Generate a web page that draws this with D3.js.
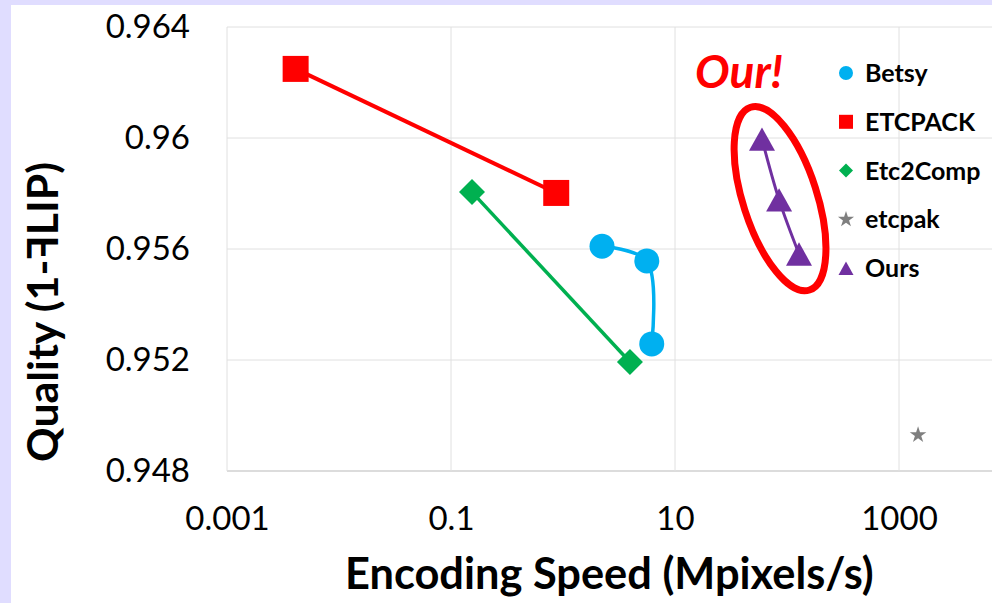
<!DOCTYPE html>
<html>
<head>
<meta charset="utf-8">
<script src="https://cdn.jsdelivr.net/npm/d3@7"></script>
<style>
  body { margin: 0; background: #e0ddff; }
  svg { display: block; font-family: Lato, "Open Sans", sans-serif; }
</style>
</head>
<body>
<svg id="chart" width="992" height="603"></svg>
<script>
// values
const seriesNames = ["Betsy", "ETCPACK", "Etc2Comp", "etcpak", "Ours"];
const seriesColors = ["#00b0f0", "#ff0000", "#00b050", "#7f7f7f", "#7030a0"];

const betsySpeed = [2.23, 5.6, 6.2];
const betsyQuality = [0.9561, 0.95557, 0.95258];
const etcpackSpeed = [0.0041, 0.87];
const etcpackQuality = [0.96249, 0.95802];
const etc2compSpeed = [0.154, 3.96];
const etc2compQuality = [0.95805, 0.95193];
const etcpakSpeed = [1480];
const etcpakQuality = [0.9493];
const oursSpeed = [59.8, 85, 128];
const oursQuality = [0.95996, 0.95777, 0.95582];

const xTicks = [0.001, 0.1, 10, 1000];
const xTickLabels = ["0.001", "0.1", "10", "1000"];
const yTicks = [0.948, 0.952, 0.956, 0.96, 0.964];
const yTickLabels = ["0.948", "0.952", "0.956", "0.96", "0.964"];

const svg = d3.select("#chart");
svg.append("rect").attr("width", 992).attr("height", 603).attr("fill", "#e0ddff");
svg.append("rect").attr("x", 11).attr("y", 5).attr("width", 981).attr("height", 598).attr("fill", "#fff");

const plotLeft = 227, plotTop = 27, plotBottom = 471;
// axis runs on past the right edge of the picture (0.001 .. 100000)
const x = d3.scaleLog().domain([0.001, 100000]).range([plotLeft, plotLeft + 8 * 112]);
const y = d3.scaleLinear().domain([0.948, 0.964]).range([plotBottom, plotTop]);

// gridlines
svg.append("g").selectAll("line").data(yTicks).join("line")
  .attr("x1", plotLeft).attr("x2", 992)
  .attr("y1", d => y(d)).attr("y2", d => y(d))
  .attr("stroke", d => d === 0.948 ? "#d0d0d0" : "#e0e0e0").attr("stroke-width", d => d === 0.948 ? 1.5 : 1);
svg.append("g").selectAll("line").data(xTicks).join("line")
  .attr("x1", d => x(d)).attr("x2", d => x(d))
  .attr("y1", plotTop).attr("y2", plotBottom)
  .attr("stroke", "#e0e0e0");

// axes labels
const yAxis = svg.append("g").attr("transform", `translate(${plotLeft},0)`)
  .call(d3.axisLeft(y).tickValues(yTicks).tickFormat((d, i) => yTickLabels[i]).tickSize(0).tickPadding(37));
yAxis.select(".domain").remove();
yAxis.selectAll("text").attr("font-size", 33).attr("font-family", "Lato").attr("fill", "#000");

const xAxis = svg.append("g").attr("transform", `translate(0,${plotBottom})`)
  .call(d3.axisBottom(x).tickValues(xTicks).tickFormat((d, i) => xTickLabels[i]).tickSize(0).tickPadding(36));
xAxis.select(".domain").remove();
xAxis.selectAll("text").attr("font-size", 33).attr("font-family", "Lato").attr("fill", "#000");

function fitWidth(sel, target) {
  const fs = parseFloat(sel.attr("font-size"));
  const w = sel.node().getComputedTextLength();
  sel.attr("font-size", fs * target / w);
}

// axis titles
const xTitle = svg.append("text").attr("x", 345).attr("y", 589)
  .attr("font-size", 36).attr("font-weight", 700).attr("fill", "#000")
  .text("Encoding Speed (Mpixels/s)");
fitWidth(xTitle, 529);

const yTitleParts = ["Quality (1-", "F", "LIP)"];
const yT = svg.append("g").attr("transform", "translate(58,312) rotate(-90)");
const parts = yTitleParts.map(t => yT.append("text").attr("font-size", 36)
  .attr("font-weight", 700).attr("fill", "#000").text(t));
let total = d3.sum(parts, p => p.node().getComputedTextLength());
const fsY = 36 * 300 / total;
parts.forEach(p => p.attr("font-size", fsY));
const widths = parts.map(p => p.node().getComputedTextLength());
total = d3.sum(widths);
let cx0 = -total / 2;
parts[0].attr("x", cx0);
// the F of FLIP is mirrored
parts[1].attr("transform", `translate(${cx0 + widths[0] + widths[1]},0) scale(-1,1)`);
parts[2].attr("x", cx0 + widths[0] + widths[1]);

// marker shapes (centred on their bounding box, like the spreadsheet markers)
const boxTriangle = { draw(ctx, size) { const w = Math.sqrt(size), h = w * 0.9;
  ctx.moveTo(0, -h / 2); ctx.lineTo(w / 2, h / 2); ctx.lineTo(-w / 2, h / 2); ctx.closePath(); } };
const boxDiamond = { draw(ctx, size) { const r = Math.sqrt(size) / 2;
  ctx.moveTo(0, -r); ctx.lineTo(r, 0); ctx.lineTo(0, r); ctx.lineTo(-r, 0); ctx.closePath(); } };
const shapes = [d3.symbolCircle, d3.symbolSquare, boxDiamond, d3.symbolStar, boxTriangle];
const plotSizes = [491, 676, 676, 85, 676];
const legendSizes = [154, 196, 196, 80, 225];
const lineWidths = [3.5, 4, 3.5, 0, 3];

const series = [
  [betsySpeed, betsyQuality], [etcpackSpeed, etcpackQuality], [etc2compSpeed, etc2compQuality],
  [etcpakSpeed, etcpakQuality], [oursSpeed, oursQuality]
].map(([s, q], k) => ({ k, pts: s.map((v, i) => [v, q[i]]) }));

const line = d3.line().x(d => x(d[0])).y(d => y(d[1])).curve(d3.curveCatmullRom.alpha(0.5));

svg.append("g").selectAll("path").data(series.filter(s => s.pts.length > 1)).join("path")
  .attr("d", s => line(s.pts)).attr("fill", "none")
  .attr("stroke", s => seriesColors[s.k]).attr("stroke-width", s => lineWidths[s.k]);

series.forEach(s => {
  svg.append("g").selectAll("path").data(s.pts).join("path")
    .attr("transform", d => `translate(${x(d[0])},${y(d[1])})`)
    .attr("d", d3.symbol(shapes[s.k], plotSizes[s.k]))
    .attr("fill", seriesColors[s.k]);
});

// legend
const lg = svg.append("g");
seriesNames.forEach((n, i) => {
  const yy = 73 + i * 48.8;
  lg.append("path").attr("transform", `translate(846,${yy})`)
    .attr("d", d3.symbol(shapes[i], legendSizes[i])).attr("fill", seriesColors[i]);
  lg.append("text").attr("x", 865).attr("y", yy + 9).attr("font-size", 25)
    .attr("font-weight", 700).attr("fill", "#000").text(n);
});

// highlight around our results
const op = oursSpeed.map((s, i) => [x(s), y(oursQuality[i])]);
const ecx = d3.mean(op, d => d[0]), ecy = d3.mean(op, d => d[1]);
const last = op[op.length - 1];
const ang = Math.atan2(last[1] - op[0][1], last[0] - op[0][0]) * 180 / Math.PI - 90;
svg.append("ellipse").attr("transform", `translate(${ecx},${ecy + 1}) rotate(${ang})`)
  .attr("rx", 37).attr("ry", 96).attr("fill", "none")
  .attr("stroke", "#ff0000").attr("stroke-width", 7);

const ourLabel = svg.append("text").attr("x", ecx - 85).attr("y", ecy - 110)
  .attr("font-size", 38).attr("font-weight", 700).attr("font-style", "italic")
  .attr("fill", "#ff0000").text("Our!");
fitWidth(ourLabel, 88);
</script>
</body>
</html>
